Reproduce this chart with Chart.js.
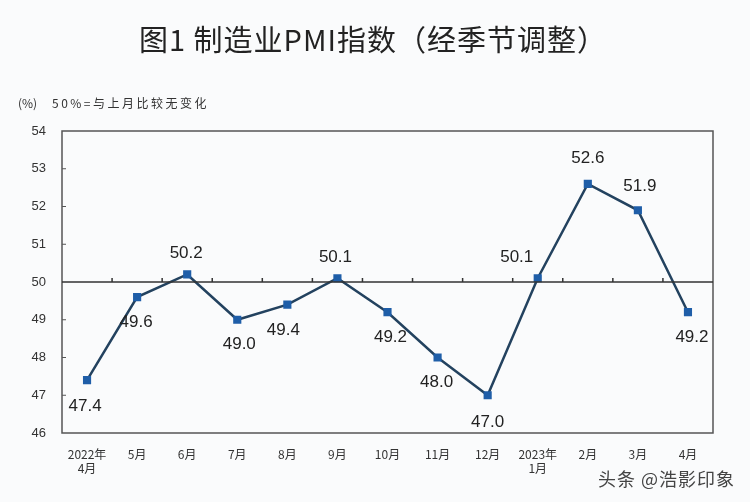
<!DOCTYPE html>
<html>
<head>
<meta charset="utf-8">
<script src="https://cdn.jsdelivr.net/npm/chart.js@4"></script>
<style>
  html, body { margin: 0; padding: 0; background: #fafbfc; }
  #wrap { width: 750px; height: 502px; position: relative; }
</style>
</head>
<body>
<div id="wrap"><canvas id="pmi-chart"></canvas></div>
<script>
// data
const months = [["2022年", "4月"], "5月", "6月", "7月", "8月", "9月", "10月", "11月", "12月", ["2023年", "1月"], "2月", "3月", "4月"];
const pmiValues = [47.4, 49.6, 50.2, 49.0, 49.4, 50.1, 49.2, 48.0, 47.0, 50.1, 52.6, 51.9, 49.2];
const yTicks = [46, 47, 48, 49, 50, 51, 52, 53, 54];
const baseline = 50;

// where each value label sits relative to its point (dx, dy)
const labelOffsets = [
  [-2, 26], [-1, 25], [-1, -21], [2, 25], [-4, 26], [-2, -21], [3, 25],
  [-1, 25], [0, 27], [-21, -21], [0, -26], [2, -24], [4, 25]
];

const cjk = "'Noto Sans CJK SC', 'Noto Sans', sans-serif";
const latin = "'Liberation Sans', Arial, sans-serif";

const decorPlugin = {
  id: 'decor',
  afterDraw(chart) {
    const ctx = chart.ctx;
    const area = chart.chartArea;
    const x = chart.scales.x;
    const y = chart.scales.y;
    ctx.save();

    // title + note
    ctx.fillStyle = '#222';
    ctx.textAlign = 'center';
    ctx.textBaseline = 'middle';
    ctx.font = '29px ' + cjk;
    ctx.letterSpacing = '1px';
    ctx.fillText('图1 制造业PMI指数（经季节调整）', 373, 40);

    ctx.textAlign = 'left';
    ctx.fillStyle = '#333';
    ctx.font = '12px ' + cjk;
    ctx.letterSpacing = '0px';
    ctx.fillText('(%)', 18, 103);
    ctx.letterSpacing = '2.5px';
    ctx.fillText('50%=与上月比较无变化', 52, 103);
    ctx.letterSpacing = '0px';

    // frame
    ctx.strokeStyle = '#555';
    ctx.lineWidth = 1.5;
    ctx.strokeRect(area.left, area.top, area.right - area.left, area.bottom - area.top);

    // 50 line with small upward ticks between months
    const y50 = y.getPixelForValue(baseline);
    ctx.strokeStyle = '#333';
    ctx.beginPath();
    ctx.moveTo(area.left, y50);
    ctx.lineTo(area.right, y50);
    for (let i = 0; i < months.length - 1; i++) {
      const xb = (x.getPixelForValue(i) + x.getPixelForValue(i + 1)) / 2;
      ctx.moveTo(xb, y50);
      ctx.lineTo(xb, y50 - 4);
    }
    ctx.stroke();

    // inward y ticks
    ctx.lineWidth = 1;
    ctx.strokeStyle = '#555';
    ctx.beginPath();
    yTicks.forEach(v => {
      if (v === yTicks[0] || v === yTicks[yTicks.length - 1] || v === baseline) return;
      const yy = y.getPixelForValue(v);
      ctx.moveTo(area.left, yy);
      ctx.lineTo(area.left + 4, yy);
    });
    ctx.stroke();

    // value labels
    const meta = chart.getDatasetMeta(0);
    ctx.fillStyle = '#222';
    ctx.textAlign = 'center';
    ctx.font = '17px ' + latin;
    meta.data.forEach((pt, i) => {
      const off = labelOffsets[i];
      ctx.fillText(pmiValues[i].toFixed(1), pt.x + off[0], pt.y + off[1]);
    });

    // watermark
    ctx.textAlign = 'left';
    ctx.fillStyle = '#444';
    ctx.font = '18px ' + cjk;
    ctx.letterSpacing = '1px';
    ctx.fillText('头条 @浩影印象', 598, 479);

    ctx.restore();
  }
};

const pmiChart = new Chart(document.getElementById('pmi-chart'), {
  type: 'line',
  data: {
    labels: months,
    datasets: [{
      data: pmiValues,
      borderColor: '#23425f',
      borderWidth: 2.5,
      tension: 0,
      pointStyle: 'rect',
      pointRadius: 4,
      pointBackgroundColor: '#1f5ea8',
      pointBorderColor: '#1f5ea8'
    }]
  },
  options: {
    responsive: true,
    maintainAspectRatio: false,
    animation: false,
    layout: { padding: { top: 131, right: 37, left: 0, bottom: 0 } },
    plugins: {
      legend: { display: false },
      tooltip: { enabled: false }
    },
    scales: {
      x: {
        offset: true,
        grid: { display: false },
        border: { display: false },
        ticks: {
          color: '#333',
          font: { size: 12, family: cjk },
          padding: 6,
          maxRotation: 0,
          autoSkip: false
        },
        afterFit: s => { s.height = 69; }
      },
      y: {
        min: 46,
        max: 54,
        grid: { display: false },
        border: { display: false },
        ticks: {
          stepSize: 1,
          color: '#333',
          font: { size: 13, family: latin },
          padding: 8
        },
        afterFit: s => { s.width = 62; }
      }
    }
  },
  plugins: [decorPlugin]
});
</script>
</body>
</html>
